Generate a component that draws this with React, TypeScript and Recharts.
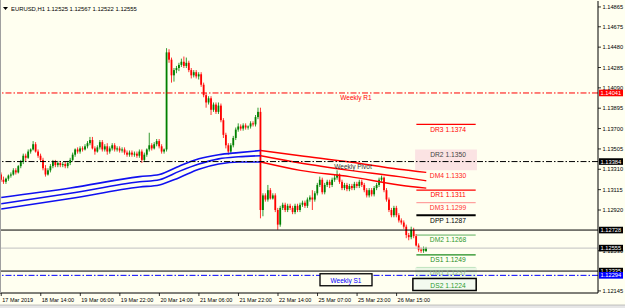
import React from "react";
import { ComposedChart, Bar, Line, XAxis, YAxis, ReferenceLine, ReferenceArea } from "recharts";

// EURUSD H1 bars: open, high, low, close
const ohlc: [number, number, number, number][] = [
  [1.1326, 1.1328, 1.1319, 1.1321], [1.1321, 1.1324, 1.1317, 1.1319], [1.1319, 1.1323, 1.1317, 1.1322], [1.1322, 1.1326, 1.132, 1.1325],
  [1.1325, 1.1328, 1.1323, 1.1326], [1.1326, 1.1332, 1.1325, 1.133], [1.133, 1.1332, 1.1326, 1.1328], [1.1328, 1.1335, 1.1327, 1.1334],
  [1.1334, 1.134, 1.1332, 1.1338], [1.1338, 1.1346, 1.1336, 1.1344], [1.1344, 1.1346, 1.1339, 1.1342], [1.1342, 1.135, 1.1341, 1.1348],
  [1.1348, 1.1351, 1.1346, 1.135], [1.135, 1.1358, 1.1349, 1.1355], [1.1355, 1.1357, 1.1347, 1.1348], [1.1348, 1.135, 1.1342, 1.1344],
  [1.1344, 1.1346, 1.1338, 1.134], [1.134, 1.1342, 1.133, 1.1332], [1.1332, 1.1335, 1.1324, 1.1326], [1.1326, 1.1332, 1.1325, 1.133],
  [1.133, 1.1336, 1.1328, 1.1334], [1.1334, 1.134, 1.1332, 1.1338], [1.1338, 1.134, 1.1333, 1.1335], [1.1335, 1.1339, 1.1333, 1.1337],
  [1.1337, 1.1339, 1.1333, 1.1335], [1.1335, 1.1338, 1.1333, 1.1336], [1.1336, 1.1338, 1.1332, 1.1334], [1.1334, 1.1339, 1.1332, 1.1337],
  [1.1337, 1.1342, 1.1335, 1.134], [1.134, 1.1347, 1.1339, 1.1345], [1.1345, 1.1351, 1.1343, 1.135], [1.135, 1.1352, 1.1346, 1.1348],
  [1.1348, 1.1353, 1.1346, 1.1351], [1.1351, 1.1353, 1.1348, 1.135], [1.135, 1.1355, 1.1349, 1.1353], [1.1353, 1.1358, 1.1351, 1.1356],
  [1.1356, 1.1362, 1.1354, 1.1359], [1.1359, 1.1362, 1.135, 1.1351], [1.1351, 1.1353, 1.1345, 1.1348], [1.1348, 1.1354, 1.1347, 1.1352],
  [1.1352, 1.1359, 1.135, 1.1357], [1.1357, 1.1359, 1.1348, 1.135], [1.135, 1.1355, 1.1348, 1.1353], [1.1353, 1.1356, 1.1345, 1.1348],
  [1.1348, 1.1353, 1.1346, 1.1351], [1.1351, 1.1356, 1.1349, 1.1354], [1.1354, 1.1356, 1.1348, 1.135], [1.135, 1.1353, 1.1348, 1.1351],
  [1.1351, 1.1353, 1.1347, 1.1349], [1.1349, 1.1352, 1.1347, 1.135], [1.135, 1.1352, 1.1345, 1.1347], [1.1347, 1.1349, 1.1343, 1.1345],
  [1.1345, 1.1349, 1.1343, 1.1347], [1.1347, 1.1349, 1.1343, 1.1345], [1.1345, 1.1348, 1.1343, 1.1346], [1.1346, 1.1348, 1.1342, 1.1344],
  [1.1344, 1.135, 1.1342, 1.1348], [1.1348, 1.135, 1.1337, 1.134], [1.134, 1.1347, 1.1338, 1.1345], [1.1345, 1.1351, 1.1343, 1.135],
  [1.135, 1.1366, 1.1348, 1.1354], [1.1354, 1.1356, 1.1349, 1.1351], [1.1351, 1.1357, 1.135, 1.1355], [1.1355, 1.136, 1.1353, 1.1358],
  [1.1358, 1.136, 1.1351, 1.1353], [1.1353, 1.1355, 1.1346, 1.1348], [1.1348, 1.1351, 1.1346, 1.135], [1.135, 1.1447, 1.1348, 1.1443],
  [1.1443, 1.1446, 1.1433, 1.1436], [1.1436, 1.1438, 1.1414, 1.1421], [1.1421, 1.1428, 1.1415, 1.1426], [1.1426, 1.143, 1.1423, 1.1428],
  [1.1428, 1.1433, 1.1425, 1.1431], [1.1431, 1.1437, 1.1429, 1.1434], [1.1434, 1.1439, 1.1428, 1.143], [1.143, 1.1438, 1.1428, 1.1433],
  [1.1433, 1.1435, 1.1424, 1.1426], [1.1426, 1.1428, 1.1418, 1.1421], [1.1421, 1.1426, 1.1419, 1.1424], [1.1424, 1.1426, 1.1418, 1.142],
  [1.142, 1.1424, 1.1417, 1.1422], [1.1422, 1.1424, 1.141, 1.1412], [1.1412, 1.1414, 1.14, 1.1402], [1.1402, 1.1404, 1.139, 1.1395],
  [1.1395, 1.1401, 1.1393, 1.1399], [1.1399, 1.1401, 1.1383, 1.1388], [1.1388, 1.1395, 1.1386, 1.1393], [1.1393, 1.1395, 1.1384, 1.1386],
  [1.1386, 1.1395, 1.1384, 1.1392], [1.1392, 1.1394, 1.1376, 1.1378], [1.1378, 1.138, 1.1361, 1.1364], [1.1364, 1.1366, 1.1351, 1.1354],
  [1.1354, 1.1356, 1.1345, 1.1348], [1.1348, 1.1356, 1.1346, 1.1354], [1.1354, 1.1363, 1.1352, 1.1361], [1.1361, 1.1371, 1.1359, 1.1369],
  [1.1369, 1.1375, 1.1367, 1.1372], [1.1372, 1.1374, 1.1368, 1.137], [1.137, 1.1375, 1.1368, 1.1373], [1.1373, 1.1375, 1.1369, 1.1371],
  [1.1371, 1.1373, 1.1369, 1.1372], [1.1372, 1.1377, 1.137, 1.1375], [1.1375, 1.1377, 1.1372, 1.1374], [1.1374, 1.1383, 1.1372, 1.1381],
  [1.1381, 1.139, 1.1379, 1.1386], [1.1386, 1.139, 1.1284, 1.1292], [1.1292, 1.1308, 1.1286, 1.1306], [1.1306, 1.1308, 1.13, 1.1302],
  [1.1302, 1.1316, 1.13, 1.1311], [1.1311, 1.1313, 1.1302, 1.1303], [1.1303, 1.1308, 1.1302, 1.1306], [1.1306, 1.1308, 1.129, 1.1292],
  [1.1292, 1.1294, 1.1273, 1.1278], [1.1278, 1.1296, 1.1276, 1.1294], [1.1294, 1.1299, 1.1292, 1.1297], [1.1297, 1.1299, 1.129, 1.1292],
  [1.1292, 1.1298, 1.129, 1.1296], [1.1296, 1.1298, 1.1292, 1.1294], [1.1294, 1.1296, 1.1288, 1.129], [1.129, 1.1298, 1.1288, 1.1296],
  [1.1296, 1.1298, 1.129, 1.1292], [1.1292, 1.1299, 1.129, 1.1297], [1.1297, 1.1301, 1.1295, 1.1299], [1.1299, 1.1301, 1.1294, 1.1296],
  [1.1296, 1.1304, 1.1294, 1.1302], [1.1302, 1.1306, 1.13, 1.1304], [1.1304, 1.1311, 1.1292, 1.1302], [1.1302, 1.131, 1.13, 1.1308],
  [1.1308, 1.1318, 1.1306, 1.1316], [1.1316, 1.1324, 1.1314, 1.1321], [1.1321, 1.1323, 1.1307, 1.1309], [1.1309, 1.1318, 1.1307, 1.1316],
  [1.1316, 1.1321, 1.1314, 1.1319], [1.1319, 1.1321, 1.1313, 1.1316], [1.1316, 1.1323, 1.1314, 1.1321], [1.1321, 1.1326, 1.1319, 1.1323],
  [1.1323, 1.133, 1.1321, 1.1326], [1.1326, 1.1327, 1.1317, 1.1319], [1.1319, 1.1321, 1.1311, 1.1313], [1.1313, 1.1318, 1.1311, 1.1316],
  [1.1316, 1.1318, 1.131, 1.1312], [1.1312, 1.1317, 1.131, 1.1315], [1.1315, 1.1317, 1.1311, 1.1313], [1.1313, 1.1319, 1.1311, 1.1317],
  [1.1317, 1.1319, 1.1313, 1.1315], [1.1315, 1.1321, 1.1313, 1.1319], [1.1319, 1.1321, 1.1314, 1.1316], [1.1316, 1.1318, 1.1309, 1.1311],
  [1.1311, 1.1313, 1.1304, 1.1306], [1.1306, 1.1313, 1.1304, 1.1311], [1.1311, 1.1313, 1.1305, 1.1307], [1.1307, 1.1315, 1.1305, 1.1313],
  [1.1313, 1.1318, 1.1311, 1.1316], [1.1316, 1.1323, 1.1314, 1.1321], [1.1321, 1.1325, 1.1319, 1.1323], [1.1323, 1.1324, 1.1309, 1.1311],
  [1.1311, 1.1313, 1.13, 1.1302], [1.1302, 1.1304, 1.129, 1.1292], [1.1292, 1.1294, 1.1285, 1.1287], [1.1287, 1.1296, 1.1285, 1.1294],
  [1.1294, 1.1296, 1.1285, 1.1287], [1.1287, 1.1289, 1.128, 1.1282], [1.1282, 1.1284, 1.1278, 1.128], [1.128, 1.1282, 1.1274, 1.1276],
  [1.1276, 1.1278, 1.1265, 1.1268], [1.1268, 1.127, 1.1263, 1.1266], [1.1266, 1.1276, 1.1264, 1.1273], [1.1273, 1.1275, 1.1265, 1.1267],
  [1.1267, 1.1269, 1.1257, 1.1258], [1.1258, 1.126, 1.1252, 1.1254], [1.1254, 1.1256, 1.1251, 1.1253], [1.1253, 1.1257, 1.1251, 1.1255],
  [1.12525, 1.12567, 1.12522, 1.12555],
];

// time axis, one label every 16 bars
const timeLabels = [
  "17 Mar 2019", "18 Mar 14:00", "19 Mar 06:00", "19 Mar 22:00", "20 Mar 14:00", "21 Mar 06:00",
  "21 Mar 22:00", "22 Mar 14:00", "25 Mar 07:00", "25 Mar 23:00", "26 Mar 15:00",
];
const labelEvery = 16;

// MA envelope, read at a few bars (blue while rising, red while falling)
const maUpIdx = [0, 28, 56, 64, 72, 80, 88, 96, 105];
const maUpTop = [1.1304, 1.1313, 1.1324, 1.1326, 1.1334, 1.1341, 1.1345, 1.1347, 1.1349];
const maUpMid = [1.1298, 1.1308, 1.1319, 1.1321, 1.1329, 1.1336, 1.1341, 1.1343, 1.1344];
const maUpLow = [1.1293, 1.1303, 1.1314, 1.1316, 1.1323, 1.1331, 1.1336, 1.1338, 1.1338];
const maDnIdx = [105, 121, 141, 161, 172];
const maDnTop = [1.1349, 1.1344, 1.1338, 1.1331, 1.1328];
const maDnMid = [1.1344, 1.1337, 1.133, 1.1324, 1.132];
const maDnLow = [1.1338, 1.133, 1.1324, 1.1316, 1.1313];

// weekly pivots and other horizontal lines
const weeklyR1 = 1.14041;
const weeklyPivot = 1.13384;
const weeklyS1 = 1.12294;
const upperLine = 1.12728;
const lowerLine = 1.12335;
const bidPrice = 1.12555;

// daily pivot levels
const pivotNames = ["DR3", "DR2", "DM4", "DR1", "DM3", "DPP", "DM2", "DS1", "DM1", "DS2"];
const pivotValues = [1.1374, 1.135, 1.133, 1.1311, 1.1299, 1.1287, 1.1268, 1.1249, 1.1237, 1.1224];

const priceTicks = [1.12145, 1.1253, 1.1292, 1.13115, 1.1331, 1.13505, 1.137, 1.13895, 1.1409, 1.14285, 1.1448, 1.14675, 1.14865];
const tagLevels = [weeklyR1, weeklyPivot, upperLine, bidPrice, lowerLine, weeklyS1];
const tagFill = ["#FF0000", "#000000", "#000000", "#000000", "#000000", "#0000FF"];

const BG = "#FFFFF0";
const FONT = "'Liberation Sans', Arial, sans-serif";
const DASHDOT = "6 2 1.5 2";
const slots = 242;
const pivotFrom = 168;
const pivotTo = 192;

const pivotStyle: Record<string, { line: string; w: number; text: string }> = {
  DR3: { line: "#FF0000", w: 1.2, text: "#FF0000" },
  DR2: { line: "none", w: 1, text: "#444444" },
  DM4: { line: "none", w: 1, text: "#FF2020" },
  DR1: { line: "#FF0000", w: 1.2, text: "#FF0000" },
  DM3: { line: "#FF8C8C", w: 1, text: "#FF3030" },
  DPP: { line: "#000000", w: 2, text: "#000000" },
  DM2: { line: "#5DAF5D", w: 1, text: "#2E9A2E" },
  DS1: { line: "#1E8C1E", w: 1.2, text: "#1E8C1E" },
  DM1: { line: "#BFE3BF", w: 1, text: "#8DB58D" },
  DS2: { line: "none", w: 1, text: "#2E9A2E" },
};

const rows = Array.from({ length: slots }, (_, i) => {
  const row: any = { i };
  const c = ohlc[i];
  if (c) {
    row.open = c[0];
    row.high = c[1];
    row.low = c[2];
    row.close = c[3];
  }
  const u = maUpIdx.indexOf(i);
  if (u >= 0) {
    row.upTop = maUpTop[u];
    row.upMid = maUpMid[u];
    row.upLow = maUpLow[u];
  }
  const d = maDnIdx.indexOf(i);
  if (d >= 0) {
    row.dnTop = maDnTop[d];
    row.dnMid = maDnMid[d];
    row.dnLow = maDnLow[d];
  }
  return row;
});

const Candle = (props: any) => {
  const { x, y, width, height, payload } = props;
  if (!payload || payload.open === undefined || !isFinite(y) || !isFinite(height)) return <g />;
  const { open, high, low, close } = payload;
  const top = Math.min(y, y + height);
  const h = Math.abs(height);
  const span = high - low || 1e-9;
  const toY = (p: number) => top + ((high - p) / span) * h;
  const color = close >= open ? "#008000" : "#FF0000";
  const cx = x + width / 2;
  const b1 = toY(Math.max(open, close));
  const b2 = toY(Math.min(open, close));
  return (
    <g>
      <line x1={cx} x2={cx} y1={top} y2={top + h} stroke={color} strokeWidth={0.8} />
      <rect x={cx - 0.9} y={b1} width={1.8} height={Math.max(b2 - b1, 0.8)} fill={color} />
    </g>
  );
};

const TimeTick = (props: any) => {
  const { x, y, payload } = props;
  const i = payload.value;
  if (i % labelEvery !== 0 || i / labelEvery >= timeLabels.length) return <g />;
  return (
    <g>
      <line x1={x} x2={x} y1={y} y2={y + 3} stroke="#000" strokeWidth={0.8} />
      <text x={x + 1} y={y + 8.5} fontSize={5.5} fill="#000" fontFamily={FONT}>
        {timeLabels[i / labelEvery]}
      </text>
    </g>
  );
};

const PriceTick = (props: any) => {
  const { x, y, payload } = props;
  const v = payload.value;
  const t = tagLevels.indexOf(v);
  if (t >= 0) {
    return (
      <g>
        <rect x={x + 1} y={y - 3.3} width={24} height={6.6} fill={tagFill[t]} />
        <text x={x + 2.6} y={y + 2} fontSize={5.7} fill="#FFFFFF" fontFamily={FONT}>
          {v.toFixed(5)}
        </text>
      </g>
    );
  }
  return (
    <g>
      <line x1={x} x2={x + 3} y1={y} y2={y} stroke="#000" strokeWidth={0.8} />
      <text x={x + 4.5} y={y + 2} fontSize={5.7} fill="#000" fontFamily={FONT}>
        {v.toFixed(5)}
      </text>
    </g>
  );
};

const weeklyLabel = (text: string, color: string, cx: number) => (props: any) => {
  const vb = props.viewBox || {};
  return (
    <text x={vb.x + cx} y={vb.y + 7.3} fontSize={6.5} fill={color} textAnchor="middle" fontFamily={FONT}>
      {text}
    </text>
  );
};

const s1Label = (props: any) => {
  const vb = props.viewBox || {};
  return (
    <g>
      <rect x={vb.x + 320} y={vb.y - 1.6} width={52} height={12} fill={BG} stroke="#000" strokeWidth={1.3} />
      <text x={vb.x + 346} y={vb.y + 7.2} fontSize={6.5} fill="#0000FF" textAnchor="middle" fontFamily={FONT}>
        Weekly S1
      </text>
    </g>
  );
};

const pivotLabel = (text: string, color: string, boxed: boolean) => (props: any) => {
  const vb = props.viewBox || {};
  const cx = vb.x + vb.width / 2 + 2;
  return (
    <g>
      {boxed && (
        <rect x={vb.x - 3.5} y={vb.y - 2.5} width={vb.width + 4} height={12} fill="#F3FAEF" stroke="#000" strokeWidth={1.5} />
      )}
      <text x={cx} y={vb.y + 7.3} fontSize={6.7} fill={color} textAnchor="middle" fontFamily={FONT}>
        {text}
      </text>
    </g>
  );
};

const App = () => {
  return (
    <div style={{ position: "absolute", left: 0, top: 0, width: 625, height: 308, background: BG, overflow: "hidden" }}>
      <ComposedChart width={625} height={308} data={rows} margin={{ top: 1, right: 0, bottom: 0, left: 0 }} barCategoryGap={0}>
        <XAxis
          dataKey="i"
          type="category"
          interval={0}
          height={15}
          tickSize={0}
          tickMargin={0}
          tickLine={false}
          axisLine={{ stroke: "#000", strokeWidth: 1 }}
          tick={<TimeTick />}
        />
        <YAxis
          orientation="right"
          type="number"
          domain={[1.12125, 1.14922]}
          allowDataOverflow
          ticks={[...priceTicks, ...tagLevels]}
          interval={0}
          width={27}
          tickSize={0}
          tickMargin={0}
          tickLine={false}
          axisLine={{ stroke: "#000", strokeWidth: 1 }}
          tick={<PriceTick />}
        />
        <ReferenceArea x1={pivotFrom} x2={pivotTo} y1={1.133} y2={1.135} fill="#FBE3E3" fillOpacity={1} stroke="none" />
        <ReferenceArea x1={pivotFrom} x2={pivotTo} y1={1.1224} y2={1.1237} fill="#EAF6E4" fillOpacity={1} stroke="none" />

        <Line dataKey="upTop" type="monotone" connectNulls dot={false} stroke="#1010F0" strokeWidth={1.6} isAnimationActive={false} />
        <Line dataKey="upMid" type="monotone" connectNulls dot={false} stroke="#1010F0" strokeWidth={1.6} isAnimationActive={false} />
        <Line dataKey="upLow" type="monotone" connectNulls dot={false} stroke="#1010F0" strokeWidth={1.6} isAnimationActive={false} />
        <Line dataKey="dnTop" type="monotone" connectNulls dot={false} stroke="#FF0000" strokeWidth={1.4} isAnimationActive={false} />
        <Line dataKey="dnMid" type="monotone" connectNulls dot={false} stroke="#FF0000" strokeWidth={1.4} isAnimationActive={false} />
        <Line dataKey="dnLow" type="monotone" connectNulls dot={false} stroke="#FF0000" strokeWidth={1.4} isAnimationActive={false} />

        <Bar
          dataKey={(r: any) => (r.high !== undefined ? [r.low, r.high] : undefined)}
          shape={<Candle />}
          isAnimationActive={false}
        />

        <ReferenceLine y={weeklyR1} stroke="#FF0000" strokeDasharray={DASHDOT} label={weeklyLabel("Weekly R1", "#FF0000", 356)} />
        <ReferenceLine y={weeklyPivot} stroke="#000" strokeDasharray={DASHDOT} label={weeklyLabel("Weekly Pivot", "#333333", 353)} />
        <ReferenceLine y={upperLine} stroke="#000" strokeWidth={1} />
        <ReferenceLine y={bidPrice} stroke="#C0C0C0" strokeWidth={1} />
        <ReferenceLine y={lowerLine} stroke="#000" strokeWidth={1} />
        <ReferenceLine y={weeklyS1} stroke="#0000FF" strokeDasharray={DASHDOT} label={s1Label} />

        {pivotNames.map((name, k) => {
          const st = pivotStyle[name];
          const v = pivotValues[k];
          return (
            <ReferenceLine
              key={name}
              segment={[{ x: pivotFrom, y: v }, { x: pivotTo, y: v }]}
              stroke={st.line}
              strokeWidth={st.w}
              label={pivotLabel(`${name} ${v.toFixed(4)}`, st.text, name === "DS2")}
            />
          );
        })}
      </ComposedChart>
      <svg width={625} height={308} style={{ position: "absolute", left: 0, top: 0, pointerEvents: "none" }}>
        <line x1={0.5} x2={0.5} y1={0} y2={293} stroke="#A0A0A0" strokeWidth={1} />
        <polygon points="3,7 8,7 5.5,10" fill="#000" />
        <text x={11} y={10.5} fontSize={5.9} fill="#000" fontFamily={FONT}>
          EURUSD,H1  1.12525 1.12567 1.12522 1.12555
        </text>
        <rect x={0} y={305} width={625} height={3} fill="#E6E6E6" />
        <line x1={0} x2={625} y1={305} y2={305} stroke="#A0A0A0" strokeWidth={0.6} />
      </svg>
    </div>
  );
};

export default App;
